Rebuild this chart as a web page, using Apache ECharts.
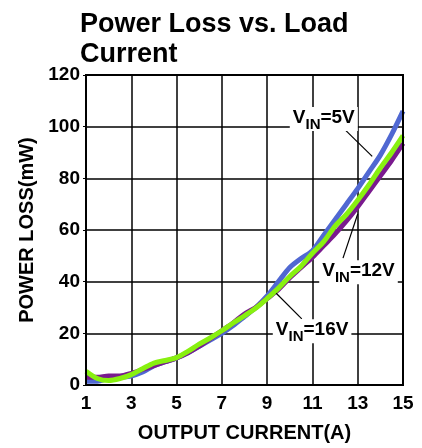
<!DOCTYPE html>
<html><head><meta charset="utf-8">
<script src="https://cdn.jsdelivr.net/npm/echarts@6/dist/echarts.min.js"></script>
<style>html,body{margin:0;padding:0;background:#fff}#c{width:422px;height:448px}</style>
</head><body><div id="c"></div>
<script>
var xTicks = [1, 3, 5, 7, 9, 11, 13, 15];
var yTicks = [0, 20, 40, 60, 80, 100, 120];
var currentA = [1, 1.5, 2, 2.5, 3, 3.5, 4, 4.5, 5, 5.5, 6, 6.5, 7, 7.5, 8, 8.5, 9, 9.5, 10, 10.5, 11, 11.5, 12, 12.5, 13, 13.5, 14, 14.5, 15];
var loss5V  = [1.5, 1.5, 2.5, 3, 3.5, 5, 7.5, 9, 10.5, 12.5, 15, 17.5, 20, 23, 26.5, 30, 34.5, 40, 45.5, 49, 52, 58, 64, 70, 76, 82.5, 89, 97, 106];
var loss12V = [3, 3, 3.5, 3.5, 4.5, 6, 7.5, 9, 10.5, 12.5, 15, 18, 21, 24, 27.5, 30, 33.5, 37, 41.5, 45.5, 49.5, 54, 58.5, 63.5, 69, 75, 81, 87, 93.5];
var loss16V = [5.3, 2.5, 1.7, 2.5, 4, 6.3, 8.5, 9.5, 10.6, 13, 15.8, 18.3, 21, 24, 26.8, 29.8, 33.5, 37.5, 42, 46, 51, 55.5, 61.5, 66, 71.5, 77.5, 84, 90, 96.5];
var seriesNames = ['VIN=5V', 'VIN=12V', 'VIN=16V'];
// annotation anchors in data coords: label left/center, leader line start, end
var noteLabels = [['5V', 10.0, 103], ['12V', 11.3, 43.6], ['16V', 9.25, 20.8]];
var noteLeaders = [[12.31, 99.9, 13.64, 88.5], [13.0, 66.2, 12.35, 49.1], [9.40, 35.5, 10.53, 25.6]];

function pairs(ys) { return currentA.map(function (x, i) { return [x, ys[i]]; }); }

var chart = echarts.init(document.getElementById('c'), null, {renderer: 'canvas'});
var F = 'Liberation Sans, Arial, sans-serif';
var option = {
  animation: false,
  title: {
    text: 'Power Loss vs. Load\nCurrent',
    left: 75, top: 5,
    textStyle: {fontFamily: F, fontWeight: 'bold', fontSize: 27, lineHeight: 30, color: '#000'}
  },
  grid: {left: 86, right: 19, top: 75, bottom: 57, containLabel: false},
  xAxis: {
    type: 'value', min: 1, max: 15, interval: 2,
    name: 'OUTPUT CURRENT(A)', nameLocation: 'middle', nameGap: 38,
    nameTextStyle: {fontFamily: F, fontWeight: 'bold', fontSize: 20, color: '#000'},
    axisLine: {lineStyle: {color: '#000', width: 2}},
    axisTick: {show: false},
    axisLabel: {fontFamily: F, fontWeight: 'bold', fontSize: 19, color: '#000', margin: 9,
      formatter: function (v) { return xTicks.indexOf(v) >= 0 ? String(v) : ''; }},
    splitLine: {show: true, lineStyle: {color: '#000', width: 1.5}}
  },
  yAxis: {
    type: 'value', min: 0, max: 120, interval: 20,
    name: 'POWER LOSS(mW)', nameLocation: 'middle', nameGap: 47,
    nameTextStyle: {fontFamily: F, fontWeight: 'bold', fontSize: 20, color: '#000'},
    axisLine: {show: true, lineStyle: {color: '#000', width: 2}},
    axisTick: {show: true, length: 3, lineStyle: {color: '#000'}},
    axisLabel: {fontFamily: F, fontWeight: 'bold', fontSize: 19, color: '#000', margin: 6,
      formatter: function (v) { return yTicks.indexOf(v) >= 0 ? String(v) : ''; }},
    splitLine: {show: true, lineStyle: {color: '#000', width: 1.5}}
  },
  series: [
    {name: seriesNames[0], type: 'line', data: pairs(loss5V), showSymbol: false, smooth: 0.3,
      lineStyle: {color: '#5068d2', width: 5}, z: 3},
    {name: seriesNames[1], type: 'line', data: pairs(loss12V), showSymbol: false, smooth: 0.3,
      lineStyle: {color: '#7a1a8e', width: 5}, z: 4},
    {name: seriesNames[2], type: 'line', data: pairs(loss16V), showSymbol: false, smooth: 0.3,
      lineStyle: {color: '#88f010', width: 5}, z: 5}
  ]
};
chart.setOption(option);

var g = [];
var p0 = chart.convertToPixel({gridIndex: 0}, [1, 0]);
var p1 = chart.convertToPixel({gridIndex: 0}, [15, 120]);
g.push({type: 'rect', shape: {x: p0[0], y: p1[1], width: p1[0] - p0[0], height: p0[1] - p1[1]},
  style: {fill: 'none', stroke: '#000', lineWidth: 2}, z: 10});
noteLeaders.forEach(function (l) {
  var a = chart.convertToPixel({gridIndex: 0}, [l[0], l[1]]);
  var b = chart.convertToPixel({gridIndex: 0}, [l[2], l[3]]);
  g.push({type: 'line', shape: {x1: a[0], y1: a[1], x2: b[0], y2: b[1]},
    style: {stroke: '#000', lineWidth: 1.2}, z: 12});
});
noteLabels.forEach(function (n) {
  var a = chart.convertToPixel({gridIndex: 0}, [n[1], n[2]]);
  g.push({type: 'text', x: a[0], y: a[1], z: 20,
    style: {
      text: '{v|V}{s|IN}{v|=' + n[0] + '}',
      verticalAlign: 'middle', align: 'left',
      backgroundColor: '#fff', padding: [1, 3, 1, 3],
      rich: {
        v: {fontFamily: F, fontSize: 19, fontWeight: 'bold', color: '#000', lineHeight: 22, verticalAlign: 'top'},
        s: {fontFamily: F, fontSize: 15, fontWeight: 'bold', color: '#000', lineHeight: 22, padding: [9, 0, 0, 0], verticalAlign: 'top'}
      }
    }});
});
chart.setOption({graphic: g});
</script></body></html>
